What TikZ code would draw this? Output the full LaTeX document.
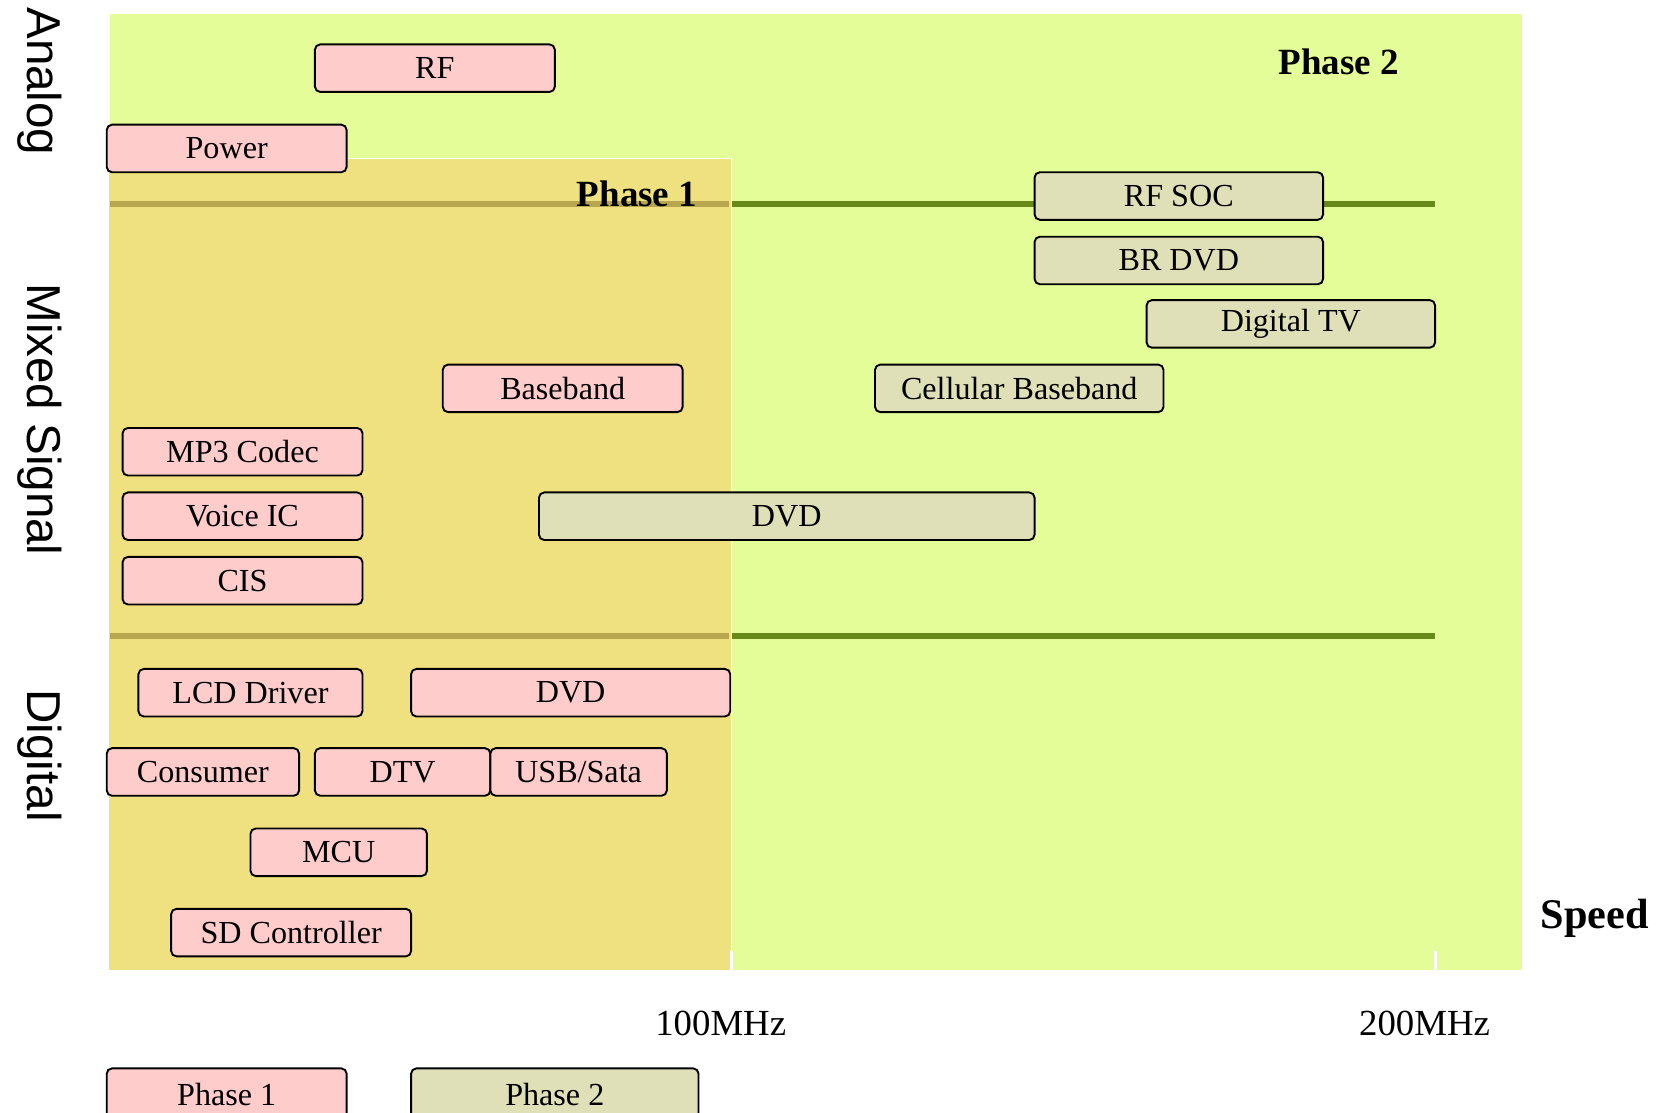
\documentclass[tikz,border=0pt]{standalone}
\usepackage{fontspec}
\setmainfont{Liberation Serif}
\newfontfamily\sidefont{Liberation Sans}
\definecolor{bggreen}{RGB}{228,253,152}
\definecolor{phyellow}{RGB}{240,225,128}
\definecolor{linegreen}{RGB}{104,136,26}
\definecolor{lineyel}{RGB}{184,166,78}
\definecolor{pinkfill}{RGB}{255,204,204}
\definecolor{khakifill}{RGB}{224,224,184}
\newcommand\chip[7]{%
  \node[#1, minimum width={(#5-#3)*0.5pt}, minimum height={(#6-#4)*0.5pt}]
    (#2) at ({(#3+#5)/2},{(#4+#6)/2}) {\raisebox{-0.8pt}{#7}};}
\tikzset{
  chipbase/.style={draw=black, line width=0.9pt, rounded corners=2.5pt, inner sep=0pt,
    font=\fontsize{15.2}{18}\selectfont},
  pbox/.style={chipbase, fill=pinkfill},
  kbox/.style={chipbase, fill=khakifill},
  sidelabel/.style={font=\sidefont\fontsize{22.5}{26}\selectfont, rotate=-90},
  axislabel/.style={font=\fontsize{17.4}{20}\selectfont},
  phaselabel/.style={font=\bfseries\fontsize{17.5}{20}\selectfont, inner sep=0pt},
  bandline/.style={line width=2.7pt},
}
\begin{document}
\begin{tikzpicture}[x=0.5pt,y=-0.5pt]
\useasboundingbox (0,0) rectangle (1568,1053);
% backgrounds
\fill[bggreen] (104,13) rectangle (1440,918);
\draw[bandline, linegreen] (692,193) -- (1358,193);
\draw[bandline, linegreen] (692,602) -- (1358,602);
\fill[phyellow] (102,150) rectangle (692,918);
\draw[white, line width=0.7pt] (102,918) -- (102,150) -- (692,150) -- (692,918);
\draw[bandline, lineyel] (104,193) -- (690,193);
\draw[bandline, lineyel] (104,602) -- (690,602);
% ticks
\draw[white, line width=1.5pt] (692,900) -- (692,918);
\draw[white, line width=1.5pt] (1358,900) -- (1358,918);
% phase labels
\node[phaselabel, anchor=base east] (ph1) at (660,195) {Phase 1};
\node[phaselabel] (ph2) at (1267,59) {Phase 2};
% boxes
\chip{pbox}{rf}{298}{42}{525}{87}{RF}
\chip{pbox}{power}{101}{118}{328}{163}{Power}
\chip{kbox}{rfsoc}{979}{163}{1252}{208}{RF SOC}
\chip{kbox}{brdvd}{979}{224}{1252}{269}{BR DVD}
\chip{kbox}{dtv2}{1085}{284}{1358}{329}{Digital TV}
\chip{pbox}{baseband}{419}{345}{646}{390}{Baseband}
\chip{kbox}{cellbb}{828}{345}{1101}{390}{Cellular Baseband}
\chip{pbox}{mp3}{116}{405}{343}{450}{MP3 Codec}
\chip{pbox}{voice}{116}{466}{343}{511}{Voice IC}
\chip{kbox}{dvdk}{510}{466}{979}{511}{DVD}
\chip{pbox}{cis}{116}{527}{343}{572}{CIS}
\chip{pbox}{lcd}{131}{633}{343}{678}{LCD Driver}
\chip{pbox}{dvdp}{389}{633}{691}{678}{DVD}
\chip{pbox}{consumer}{101}{708}{283}{753}{Consumer}
\chip{pbox}{dtv}{298}{708}{464}{753}{DTV}
\chip{pbox}{usb}{464}{708}{631}{753}{USB/Sata}
\chip{pbox}{mcu}{237}{784}{404}{829}{MCU}
\chip{pbox}{sd}{162}{860}{389}{905}{SD Controller}
% legend
\chip{pbox}{leg1}{101}{1011}{328}{1060}{Phase 1}
\chip{kbox}{leg2}{389}{1011}{661}{1060}{Phase 2}
% side labels
\node[sidelabel] (analog) at (38,77) {Analog};
\node[sidelabel] (mixed) at (38,397) {Mixed Signal};
\node[sidelabel] (digital) at (38,715) {Digital};
% axis labels
\node[axislabel] (f100) at (682,968) {100MHz};
\node[axislabel] (f200) at (1348,968) {200MHz};
\node[font=\bfseries\fontsize{20}{24}\selectfont] (speed) at (1509,869) {Speed};
\end{tikzpicture}
\end{document}
